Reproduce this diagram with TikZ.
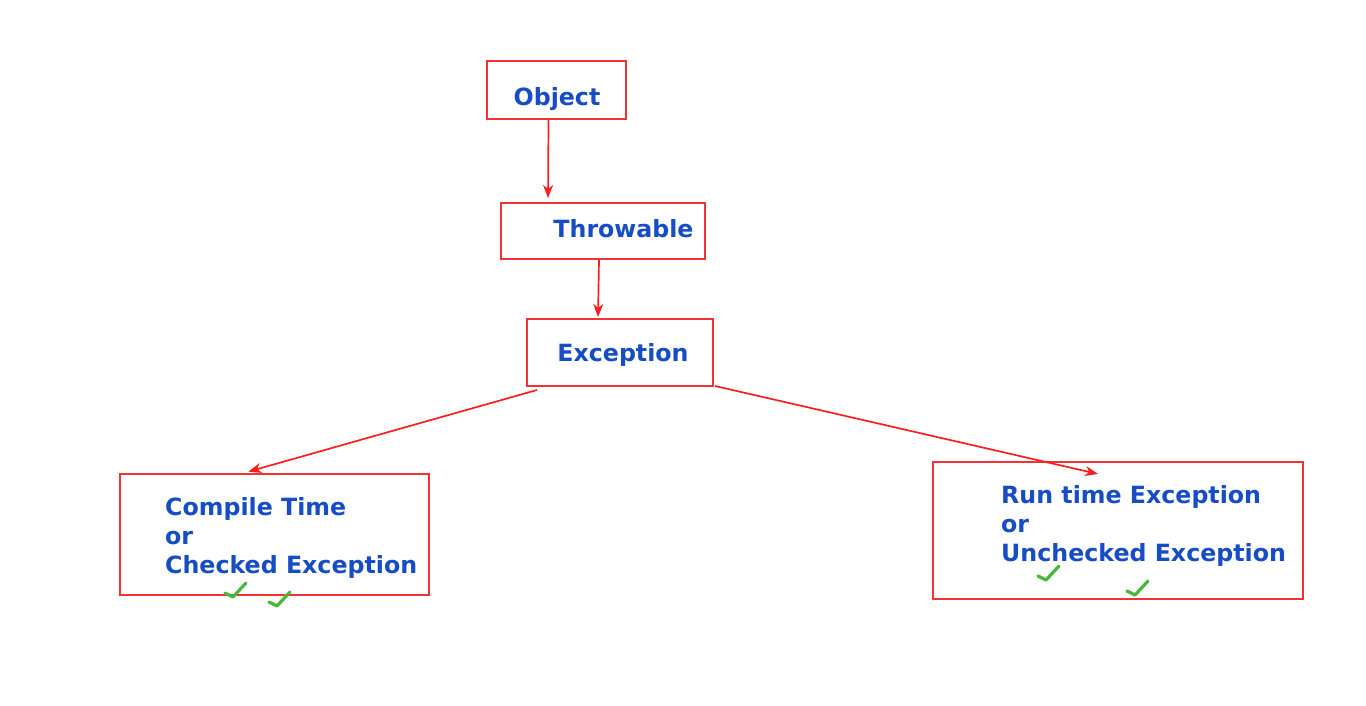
\documentclass[tikz,border=0pt]{standalone}
\usepackage{fontspec}
\setmainfont{DejaVu Sans}
\usetikzlibrary{positioning, calc, arrows.meta}
\usepackage{xcolor}
\definecolor{BoxRed}{RGB}{240,52,52}
\definecolor{LineRed}{RGB}{250,30,30}
\definecolor{TextBlue}{RGB}{22,76,196}
\definecolor{TickGreen}{RGB}{70,185,60}
\tikzstyle{Box} = [draw=BoxRed, line width=2pt, rectangle, inner sep=0pt]
\tikzstyle{Label} = [text=TextBlue, inner sep=0pt,
font=\fontsize{23.7}{29}\selectfont\bfseries, align=left]
\tikzstyle{Arrow} = [
draw=LineRed, line width=1.7pt,
-{Stealth[length=13pt, width=10pt, inset=4pt]}]
\tikzstyle{Tick} = [draw=TickGreen, line width=3.2pt, line cap=round, line join=round]

\begin{document}
\begin{tikzpicture}[x=1pt, y=-1pt]
    \useasboundingbox (0,0) rectangle (1366,706);

    \node [Box, minimum width=139, minimum height=58] (obj) at (556.5,90) {};
    \node [Box, minimum width=204, minimum height=56] (thr) at (603,231) {};
    \node [Box, minimum width=186, minimum height=67] (exc) at (620,352.5) {};
    \node [Box, minimum width=309, minimum height=121] (chk) at (274.5,534.5) {};
    \node [Box, minimum width=370, minimum height=137] (unc) at (1118,530.5) {};

    \node [Label, anchor=base] (objT) at (557,106) {Object};
    \node [Label, anchor=base] (thrT) at (623.5,237) {Throwable};
    \node [Label, anchor=base] (excT) at (623,361) {Exception};
    \node [Label, anchor=north west] (chkT) at (165,497.5) {Compile Time\\or\\Checked Exception};
    \node [Label, anchor=north west] (uncT) at (1001,485.5) {Run time Exception\\or\\Unchecked Exception};

    \draw[Arrow, shorten >=4pt] ([xshift=-8pt]obj.south) -- ([xshift=-55pt]thr.north);
    \draw[Arrow, shorten >=1pt] ([xshift=-4pt]thr.south) -- ([xshift=-22pt]exc.north);
    \draw[Arrow, shorten >=5pt] ([xshift=11pt,yshift=-3pt]exc.south west) -- ([xshift=-31pt]chk.north);
    \draw[Arrow] ([xshift=1pt,yshift=1pt]exc.south east) -- ([xshift=-20pt,yshift=-13pt]unc.north);

    %ticks under the two kinds
    \foreach \x/\y in {233/597, 277/606, 1046/580, 1135/595}
        \draw[Tick] ({\x-8},{\y-4}) -- (\x,\y) -- ({\x+13},{\y-14});
\end{tikzpicture}
\end{document}
